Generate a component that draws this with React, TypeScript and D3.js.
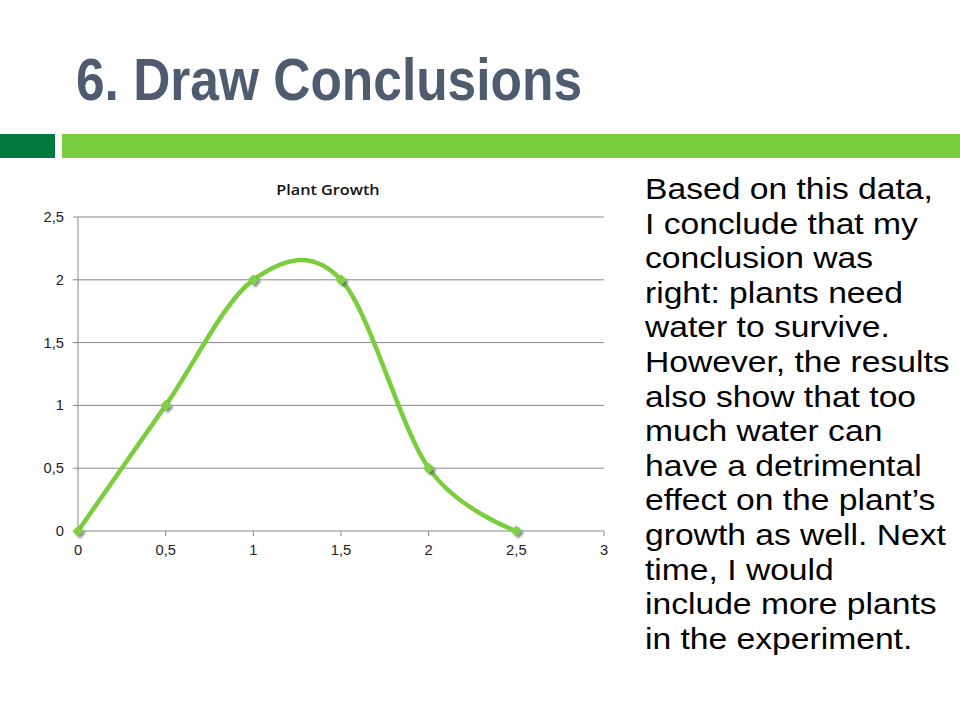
import * as d3 from 'd3'

const xValues = [0, 0.5, 1, 1.5, 2, 2.5]
const growth = [0, 1, 2, 2, 0.5, 0]
const xTicks = [0, 0.5, 1, 1.5, 2, 2.5, 3]
const yTicks = [0, 0.5, 1, 1.5, 2, 2.5]

const TITLE = '6. Draw Conclusions'
const CHART_TITLE = 'Plant Growth'
const bodyLines = [
  'Based on this data,',
  'I conclude that my',
  'conclusion was',
  'right: plants need',
  'water to survive.',
  'However, the results',
  'also show that too',
  'much water can',
  'have a detrimental',
  'effect on the plant\u2019s',
  'growth as well. Next',
  'time, I would',
  'include more plants',
  'in the experiment.',
]

const W = 960
const H = 720
const PLOT = { left: 78, right: 604, top: 217, bottom: 531 }
const GREEN = '#7acd3c'
const DARK_GREEN = '#007a3e'
const GRID = '#878787'
const FONT = '"Liberation Sans", Arial, sans-serif'

const fmt = (v: number) => String(v).replace('.', ',')

export default function App() {
  const x = d3.scaleLinear().domain([0, 3]).range([PLOT.left, PLOT.right])
  const y = d3.scaleLinear().domain([0, 2.5]).range([PLOT.bottom, PLOT.top])

  const pts = xValues.map((v, i) => [v, growth[i]] as [number, number])
  const line = d3.line<[number, number]>()
    .x(d => x(d[0]))
    .y(d => y(d[1]))
    .curve(d3.curveCardinal.tension(0))

  const diamond = d3.symbol().type(d3.symbolDiamond2).size(80)()

  return (
    <svg width={W} height={H} viewBox={`0 0 ${W} ${H}`}
      style={{ position: 'absolute', left: 0, top: 0, display: 'block', background: '#fff' }}>
      <defs>
        <filter id="shadow" x="-60%" y="-60%" width="220%" height="220%">
          <feDropShadow dx="2" dy="2" stdDeviation="1.2" floodColor="#555" floodOpacity="0.7" />
        </filter>
      </defs>

      {/* slide header */}
      <text x={76} y={100} fontFamily={FONT} fontWeight={700} fontSize={60}
        fill="#4f5b6e" textLength={506} lengthAdjust="spacingAndGlyphs">{TITLE}</text>
      <rect x={0} y={134} width={55} height={24} fill={DARK_GREEN} />
      <rect x={62} y={134} width={W - 62} height={24} fill={GREEN} />

      {/* chart title */}
      <text transform="translate(328,195) scale(1.08,1)" textAnchor="middle"
        fontFamily='"Open Sans", sans-serif' fontSize={15} fontWeight={600} fill="#111">{CHART_TITLE}</text>

      {/* grid */}
      {yTicks.map(t => (
        <g key={t}>
          <line x1={PLOT.left - 5} x2={PLOT.right} y1={y(t)} y2={y(t)} stroke={GRID} strokeWidth={1} />
          <text transform={`translate(64,${y(t) + 5}) scale(1.05,1)`} textAnchor="end"
            fontFamily={FONT} fontSize={14} fill="#222">{fmt(t)}</text>
        </g>
      ))}
      <line x1={PLOT.left} x2={PLOT.left} y1={PLOT.top} y2={PLOT.bottom} stroke={GRID} strokeWidth={1} />
      {xTicks.map(t => (
        <g key={t}>
          <line x1={x(t)} x2={x(t)} y1={PLOT.bottom} y2={PLOT.bottom + 5} stroke={GRID} strokeWidth={1} />
          <text transform={`translate(${x(t)},555) scale(1.05,1)`} textAnchor="middle"
            fontFamily={FONT} fontSize={14} fill="#222">{fmt(t)}</text>
        </g>
      ))}

      {/* series */}
      <path d={line(pts) ?? ''} fill="none" stroke={GREEN} strokeWidth={4.5} strokeLinejoin="round" />
      {pts.map((d, i) => (
        <path key={i} d={diamond ?? ''} transform={`translate(${x(d[0])},${y(d[1])})`}
          fill="#80cf44" filter="url(#shadow)" />
      ))}

      {/* body text */}
      {bodyLines.map((l, i) => (
        <text key={i} transform={`translate(645,${199 + i * 34.6}) scale(1.16,1)`}
          fontFamily={FONT} fontSize={29} fill="#000">{l}</text>
      ))}
    </svg>
  )
}
